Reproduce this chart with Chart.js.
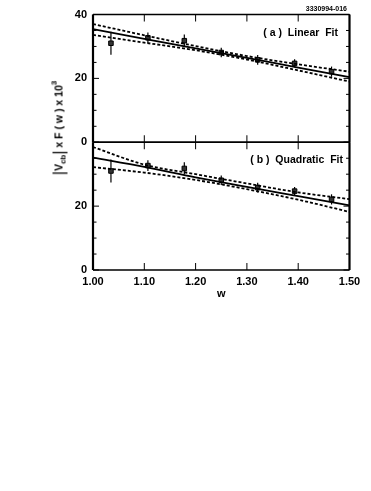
<!DOCTYPE html>
<html>
<head>
<meta charset="utf-8">
<script src="https://cdn.jsdelivr.net/npm/chart.js@4.4.1/dist/chart.umd.min.js"></script>
<style>
  html, body { margin: 0; padding: 0; background: #fff; }
  #wrap { position: relative; width: 371px; height: 491px; }
  #ylab {
    position: absolute; left: 59px; top: 128px;
    transform: translate(-50%, -50%) rotate(-90deg);
    font: bold 10.5px "Liberation Sans", Arial, sans-serif;
    white-space: nowrap; color: #000;
  }
  #ylab .bar { font-weight: normal; font-size: 16px; vertical-align: -2px; }
  #ylab sub { font-size: 8px; vertical-align: -3px; }
  #ylab sup { font-size: 8px; vertical-align: 6px; }
</style>
</head>
<body>
<div id="wrap">
  <canvas id="chart" width="371" height="491"></canvas>
  <div id="ylab"><span class="bar">|</span>V<sub>cb</sub><span class="bar">|</span> x F ( w ) x 10<sup>3</sup></div>
</div>
<script>
// measured points (same in both panels)
var wPts = [1.035, 1.107, 1.178, 1.250, 1.321, 1.393, 1.465];
var fVals = [31.0, 32.7, 31.8, 28.1, 25.8, 24.7, 22.1];
var fErrs = [3.6, 1.7, 1.9, 1.5, 1.5, 1.3, 1.6];

// fit curves
var fitW = [1.00, 1.10, 1.20, 1.30, 1.40, 1.50];
var linFit = [35.4, 32.4, 29.4, 26.4, 23.4, 20.4];
var linUp = [37.0, 33.5, 30.1, 27.0, 24.4, 22.1];
var linLo = [33.6, 31.2, 28.8, 25.9, 22.5, 19.0];
var quadFit = [35.2, 32.3, 29.0, 26.0, 23.1, 20.2];
var quadUp = [38.5, 33.0, 30.0, 27.1, 24.3, 22.2];
var quadLo = [32.2, 30.5, 28.2, 25.3, 22.0, 18.2];

var xTicks = [1.0, 1.1, 1.2, 1.3, 1.4, 1.5];
var yTicks = [0, 20, 40];

function pairs(xs, ys) {
  return xs.map(function(x, i) { return {x: x, y: ys[i]}; });
}

function curve(xs, ys, axis, dashed) {
  return {
    type: 'line', data: pairs(xs, ys), yAxisID: axis,
    borderColor: '#000', borderWidth: 1.8,
    borderDash: dashed ? [3, 2] : [],
    pointRadius: 0, fill: false, cubicInterpolationMode: 'monotone'
  };
}

function points(axis) {
  return {
    type: 'scatter', data: pairs(wPts, fVals), yAxisID: axis,
    pointStyle: 'rect', pointRadius: 3.2,
    backgroundColor: '#333', borderColor: '#000', borderWidth: 1
  };
}

var fontBold = { family: '"Liberation Sans", Arial, sans-serif', size: 11, weight: 'bold' };

var framePlugin = {
  id: 'frame',
  beforeDatasetsDraw: function(chart) {
    var ctx = chart.ctx, x = chart.scales.x;
    ctx.save();
    ctx.strokeStyle = '#000';
    ctx.lineWidth = 1.2;
    ['yTop', 'yBot'].forEach(function(id) {
      var y = chart.scales[id];
      wPts.forEach(function(w, i) {
        var px = x.getPixelForValue(w);
        ctx.beginPath();
        ctx.moveTo(px, y.getPixelForValue(fVals[i] + fErrs[i]));
        ctx.lineTo(px, y.getPixelForValue(fVals[i] - fErrs[i]));
        ctx.stroke();
      });
    });
    ctx.restore();
  },
  afterDatasetsDraw: function(chart) {
    var ctx = chart.ctx, a = chart.chartArea, x = chart.scales.x;
    ctx.save();
    ctx.strokeStyle = '#000';
    ['yTop', 'yBot'].forEach(function(id) {
      var y = chart.scales[id];
      var top = y.getPixelForValue(40), bot = y.getPixelForValue(0);
      ctx.lineWidth = 1.5;
      ctx.beginPath();
      ctx.moveTo(a.left, top); ctx.lineTo(a.right, top);
      ctx.moveTo(a.left, bot); ctx.lineTo(a.right, bot);
      ctx.stroke();
      ctx.lineWidth = 2.2;
      ctx.beginPath();
      ctx.moveTo(a.left, top); ctx.lineTo(a.left, bot);
      ctx.moveTo(a.right, top); ctx.lineTo(a.right, bot);
      ctx.stroke();
      ctx.lineWidth = 1;
      ctx.beginPath();
      for (var v = 0; v <= 40; v += 5) {
        var py = y.getPixelForValue(v);
        var len = v % 20 === 0 ? 6 : 3.5;
        ctx.moveTo(a.left, py); ctx.lineTo(a.left + len, py);
        ctx.moveTo(a.right, py); ctx.lineTo(a.right - len, py);
      }
      xTicks.forEach(function(t) {
        var px = x.getPixelForValue(t);
        ctx.moveTo(px, top); ctx.lineTo(px, top + 7);
        ctx.moveTo(px, bot); ctx.lineTo(px, bot - 7);
      });
      ctx.stroke();
    });
    ctx.fillStyle = '#000';
    ctx.textBaseline = 'alphabetic';
    ctx.textAlign = 'right';
    ctx.font = 'bold 10.5px "Liberation Sans", Arial, sans-serif';
    ctx.fillText('( a )  Linear  Fit', 338, chart.scales.yTop.getPixelForValue(40) + 21);
    ctx.fillText('( b )  Quadratic  Fit', 343, chart.scales.yBot.getPixelForValue(40) + 21);
    ctx.font = 'bold 7px "Liberation Sans", Arial, sans-serif';
    ctx.fillText('3330994-016', 347, 10.5);
    ctx.restore();
  }
};

var yCommon = {
  type: 'linear', position: 'left', stack: 'panels', stackWeight: 1,
  min: 0, max: 40,
  afterBuildTicks: function(s) { s.ticks = yTicks.map(function(v) { return {value: v}; }); },
  grid: { display: false, drawTicks: false },
  border: { display: false },
  afterFit: function(s) { s.width = 93; }
};

new Chart(document.getElementById('chart').getContext('2d'), {
  data: {
    datasets: [
      curve(fitW, linUp, 'yTop', true),
      curve(fitW, linLo, 'yTop', true),
      curve(fitW, linFit, 'yTop', false),
      points('yTop'),
      curve(fitW, quadUp, 'yBot', true),
      curve(fitW, quadLo, 'yBot', true),
      curve(fitW, quadFit, 'yBot', false),
      points('yBot')
    ]
  },
  options: {
    responsive: false,
    animation: false,
    layout: { padding: { left: 0, top: 14.5, right: 21.5, bottom: 186 } },
    plugins: { legend: { display: false }, tooltip: { enabled: false } },
    scales: {
      x: {
        type: 'linear', min: 1.0, max: 1.5,
        afterBuildTicks: function(s) { s.ticks = xTicks.map(function(v) { return {value: v}; }); },
        ticks: { color: '#000', font: fontBold, padding: 5, maxRotation: 0,
                 callback: function(v) { return v.toFixed(2); } },
        grid: { display: false, drawTicks: false },
        border: { display: false },
        title: { display: true, text: 'w', color: '#000', font: fontBold, padding: { top: 2, bottom: 4 } },
        afterFit: function(s) { s.height = 35; }
      },
      // stacked panels: the later-listed axis is placed on top
      yBot: Object.assign({}, yCommon, {
        ticks: { color: '#000', font: fontBold, padding: 6,
                 callback: function(v) { return v === 40 ? '' : v; } }
      }),
      yTop: Object.assign({}, yCommon, {
        ticks: { color: '#000', font: fontBold, padding: 6 }
      })
    }
  },
  plugins: [framePlugin]
});
</script>
</body>
</html>
